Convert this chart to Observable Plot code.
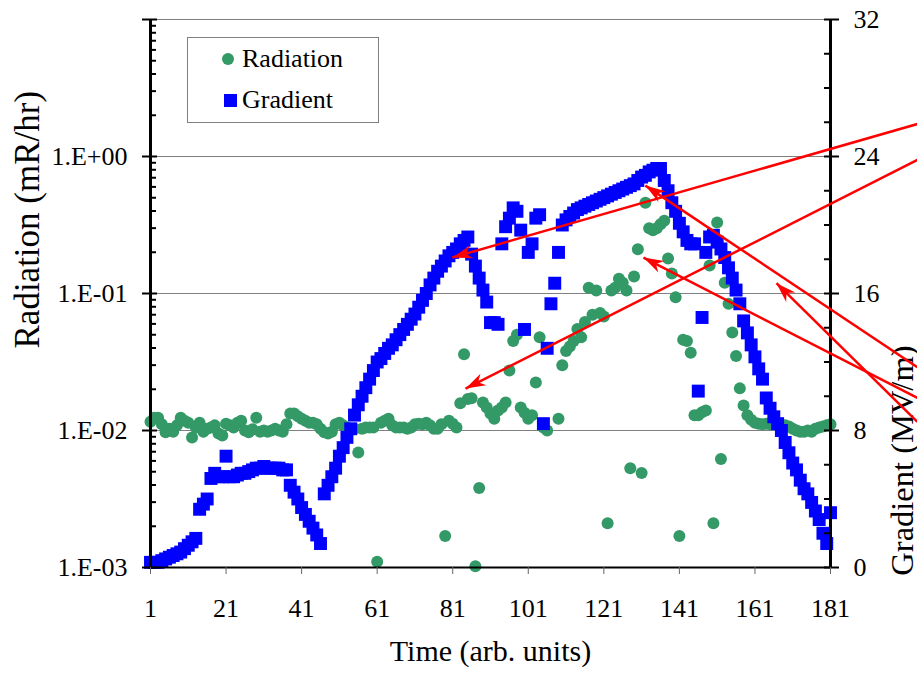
<!DOCTYPE html>
<html>
<head>
<meta charset="utf-8">
<script src="https://cdn.jsdelivr.net/npm/d3@7"></script>
<script src="https://cdn.jsdelivr.net/npm/@observablehq/plot@0.6"></script>
<style>
html, body { margin: 0; padding: 0; background: #fff; overflow: hidden; }
#wrap { position: relative; width: 917px; height: 679px; overflow: hidden; background: #fff; }
#legend { position: absolute; left: 187px; top: 37px; }
</style>
</head>
<body>
<div id="wrap"></div>
<script>
// Radiation (mR/hr), one value per time step 1..181 (null = not shown)
const radiation = [
  0.0116,0.0124,0.0124,0.0111,0.0097,0.0103,0.0098,0.0109,0.0124,0.0118,
  0.0114,0.0089,0.0105,0.0114,0.0098,0.0103,0.0105,0.0109,0.0095,0.0092,
  0.0112,0.0109,0.0105,0.0114,0.0118,0.0100,0.0097,0.0102,0.0124,0.0098,
  0.0100,0.0098,0.0100,0.0103,0.0100,0.0098,0.0111,0.0133,0.0133,0.0127,
  0.0122,0.0118,0.0114,0.0114,0.0111,0.0103,0.0097,0.0095,0.0098,0.0111,
  0.0114,0.0109,0.0105,0.0103,0.0103,0.0069,0.0103,0.0105,0.0105,0.0105,
  0.0011,0.0114,0.0118,0.0122,0.0109,0.0105,0.0105,0.0105,0.0103,0.0105,
  0.0111,0.0112,0.0111,0.0114,0.0109,0.0103,0.0103,0.0111,0.0017,0.0118,
  0.0112,0.0105,0.0158,0.036,0.017,0.0172,0.00102,0.0038,0.016,0.0147,
  0.0133,0.0122,0.014,0.0147,0.016,0.0274,0.045,0.050,0.0147,0.0135,
  0.0122,0.0129,0.0224,0.048,0.0105,0.0100,null,null,0.0122,0.030,
  0.038,0.041,0.045,0.055,0.048,0.062,0.11,0.07,0.105,0.072,
  0.068,0.0021,0.105,0.11,0.128,0.12,0.105,0.0053,0.133,0.21,
  0.0049,0.46,0.30,0.29,0.30,0.32,0.34,0.18,0.14,0.094,
  0.0017,0.046,0.045,0.037,0.0129,0.0129,0.0136,0.014,0.16,0.0021,
  0.33,0.0062,0.12,0.084,0.052,0.035,0.0203,0.0152,0.0129,0.012,
  0.0114,0.0112,0.0111,0.0112,0.0111,0.0111,0.0111,0.0109,0.0109,0.0107,
  0.0103,0.0100,0.0098,0.0098,0.0100,0.0098,0.0103,0.0105,0.0107,0.0109,
  0.0111
];

// Gradient (MV/m), one value per time step 1..181
const gradient = [
  0.3,0.3,0.3,0.4,0.5,0.6,0.7,0.8,0.9,1.1,
  1.3,1.5,1.7,3.4,3.7,4.0,5.2,5.5,5.3,5.3,
  6.5,5.3,5.3,5.4,5.5,5.5,5.6,5.7,5.8,5.8,
  5.9,5.8,5.8,5.8,5.8,5.7,5.7,4.8,4.4,4.0,
  3.5,3.1,2.7,2.3,1.9,1.4,4.3,4.8,5.3,5.8,
  6.5,7.0,7.6,8.1,8.9,9.5,10.0,10.5,11.0,11.5,
  12.0,12.2,12.5,12.8,13.0,13.3,13.6,13.9,14.2,14.5,
  14.8,15.2,15.6,16.0,16.5,16.9,17.3,17.6,17.9,18.2,
  18.4,18.6,18.9,19.1,19.3,18.3,17.6,16.9,16.2,15.5,
  14.3,14.3,14.2,18.9,19.9,20.4,21.0,20.8,19.7,13.9,
  18.4,18.9,20.4,20.6,8.4,12.8,15.4,16.6,18.4,20.0,
  20.3,20.5,20.7,20.9,21.0,21.1,21.2,21.3,21.4,21.5,
  21.6,21.7,21.8,21.9,22.0,22.1,22.2,22.3,22.4,22.6,
  22.8,22.9,23.1,23.2,23.3,23.3,22.6,22.0,21.3,20.8,
  20.1,19.6,19.1,18.9,18.9,10.3,14.6,18.4,19.3,19.4,
  19.0,18.6,18.1,17.5,16.9,16.2,15.4,14.4,13.7,13.0,
  12.3,11.6,11.0,9.9,9.3,8.8,8.4,8.0,7.3,6.7,
  6.1,5.7,5.1,4.6,4.3,3.8,3.3,2.8,2.0,1.4,
  3.2
];

// Axis ticks and labels
const timeTicks = [1, 21, 41, 61, 81, 101, 121, 141, 161, 181];
const radTicks = [0.001, 0.01, 0.1, 1];
const radTickLabels = ["1.E-03", "1.E-02", "1.E-01", "1.E+00"];
const radGrid = [0.01, 0.1, 1, 10];
const gradTicks = [0, 8, 16, 24, 32];
const gradTickLabels = ["0", "8", "16", "24", "32"];

// Annotation arrows (time units, gradient units): from -> to (head)
const arrowFromTime = [204, 204, 204, 204, 204];
const arrowFromGrad = [25.9, 23.8, 11.7, 9.9, 8.5];
const arrowToTime = [80.9, 84.4, 132.0, 131.5, 166.7];
const arrowToGrad = [18.1, 10.45, 22.3, 18.1, 16.6];

// Secondary axis: gradient is linear, 8 MV/m per decade of radiation
const g2r = g => Math.pow(10, g / 8 - 3);

const radData = radiation.map((r, i) => ({t: i + 1, r})).filter(d => d.r != null);
const gradData = gradient.map((g, i) => ({t: i + 1, y: g2r(g)}));
const arrowData = arrowFromTime.map((t, i) => ({
  x1: t, y1: g2r(arrowFromGrad[i]), x2: arrowToTime[i], y2: g2r(arrowToGrad[i])
}));

const leftMajor = radTicks.concat([10]);
const leftMinor = [];
for (let e = -3; e < 1; e++) for (let m = 2; m <= 9; m++) leftMinor.push(m * Math.pow(10, e));
const gradTickPos = gradTicks.map(g2r);
const rightMinor = d3.range(2, 32, 2).filter(g => g % 8 !== 0).map(g2r);

const FONT = "'Liberation Serif', 'Times New Roman', serif";

// Filled "stealth" arrowhead, like the spreadsheet's arrows
function stealthMarker(color) {
  const ns = "http://www.w3.org/2000/svg";
  const marker = document.createElementNS(ns, "marker");
  marker.setAttribute("viewBox", "-21 -8 22 16");
  marker.setAttribute("markerWidth", "22");
  marker.setAttribute("markerHeight", "16");
  marker.setAttribute("markerUnits", "userSpaceOnUse");
  marker.setAttribute("orient", "auto");
  marker.setAttribute("refX", "0");
  marker.setAttribute("refY", "0");
  marker.setAttribute("overflow", "visible");
  const path = document.createElementNS(ns, "path");
  path.setAttribute("d", "M0,0L-20,-6.5L-14,0L-20,6.5Z");
  path.setAttribute("fill", color);
  path.setAttribute("stroke", "none");
  marker.appendChild(path);
  return marker;
}

function baseMarks() {
  return [
    Plot.ruleY(radGrid, {stroke: "#808080", strokeWidth: 1}),
    Plot.dot(radData, {x: "t", y: "r", r: 6, fill: "#339966", symbol: "circle"}),
    Plot.dot(gradData, {x: "t", y: "y", r: 7.3, fill: "#0000ff", symbol: "square"}),
    // axis lines
    Plot.ruleY([1e-3], {stroke: "black", strokeWidth: 2}),
    Plot.ruleX([1], {stroke: "black", strokeWidth: 3}),
    Plot.ruleX([181], {stroke: "black", strokeWidth: 3}),
    // left axis ticks
    Plot.axisY(leftMajor, {anchor: "left", tickSize: 15, dx: 7, fill: "none", stroke: "black", strokeWidth: 2, label: null}),
    Plot.axisY(leftMinor, {anchor: "left", tickSize: 6, dx: 6, fill: "none", stroke: "black", strokeWidth: 2, label: null}),
    Plot.axisY(radTicks, {anchor: "left", tickSize: 0, tickPadding: 23, fontSize: 26,
      tickFormat: d => radTickLabels[radTicks.indexOf(d)], label: null}),
    // right axis ticks
    Plot.axisY(gradTickPos, {anchor: "right", tickSize: 15, dx: -7, fill: "none", stroke: "black", strokeWidth: 2, label: null}),
    Plot.axisY(rightMinor, {anchor: "right", tickSize: 7, dx: -7, fill: "none", stroke: "black", strokeWidth: 2, label: null}),
    Plot.axisY(gradTickPos, {anchor: "right", tickSize: 0, tickPadding: 23, fontSize: 26,
      tickFormat: d => gradTickLabels[gradTickPos.indexOf(d)], label: null}),
    // x axis
    Plot.axisX(timeTicks, {anchor: "bottom", tickSize: 7, stroke: "#666", tickPadding: 24, fontSize: 26, label: null}),
    // axis titles
    Plot.text(["Radiation (mR/hr)"], {text: d => d, frameAnchor: "left", dx: -123, dy: 55, rotate: -90, fontSize: 35}),
    Plot.text(["Gradient (MV/m)"], {text: d => d, frameAnchor: "right", dx: 72, dy: 52, rotate: -90, fontSize: 32.5}),
    Plot.text(["Time (arb. units)"], {text: d => d, frameAnchor: "bottom", dy: 93, fontSize: 30})
  ];
}

const options = {
  width: 917,
  height: 679,
  marginLeft: 150,
  marginRight: 87,
  marginTop: 19,
  marginBottom: 112,
  style: {fontFamily: FONT, fontSize: "26px", color: "black", background: "white"},
  x: {domain: [1, 181]},
  y: {type: "log", domain: [1e-3, 10]}
};

let chart;
try {
  chart = Plot.plot({...options, marks: [
    ...baseMarks(),
    Plot.link(arrowData, {x1: "x1", y1: "y1", x2: "x2", y2: "y2", stroke: "#ff0000", strokeWidth: 2.5, markerEnd: stealthMarker})
  ]});
} catch (e) {
  chart = Plot.plot({...options, marks: [
    ...baseMarks(),
    Plot.arrow(arrowData, {x1: "x1", y1: "y1", x2: "x2", y2: "y2", stroke: "#ff0000", strokeWidth: 2.5, headLength: 16, headAngle: 40})
  ]});
}

const wrap = document.getElementById("wrap");
wrap.appendChild(chart);

// Legend (drawn over the plot area, as in the original)
const legend = document.createElementNS("http://www.w3.org/2000/svg", "svg");
legend.setAttribute("id", "legend");
legend.setAttribute("width", "193");
legend.setAttribute("height", "87");
legend.innerHTML = `
  <rect x="0.5" y="0.5" width="191" height="85" fill="white" stroke="#808080" stroke-width="1"/>
  <circle cx="41" cy="22" r="6" fill="#339966"/>
  <text x="55" y="30" font-family="Liberation Serif, Times New Roman, serif" font-size="26" fill="black">Radiation</text>
  <rect x="37" y="57" width="13" height="13" fill="#0000ff"/>
  <text x="55" y="71" font-family="Liberation Serif, Times New Roman, serif" font-size="26" fill="black">Gradient</text>`;
wrap.appendChild(legend);
</script>
</body>
</html>
